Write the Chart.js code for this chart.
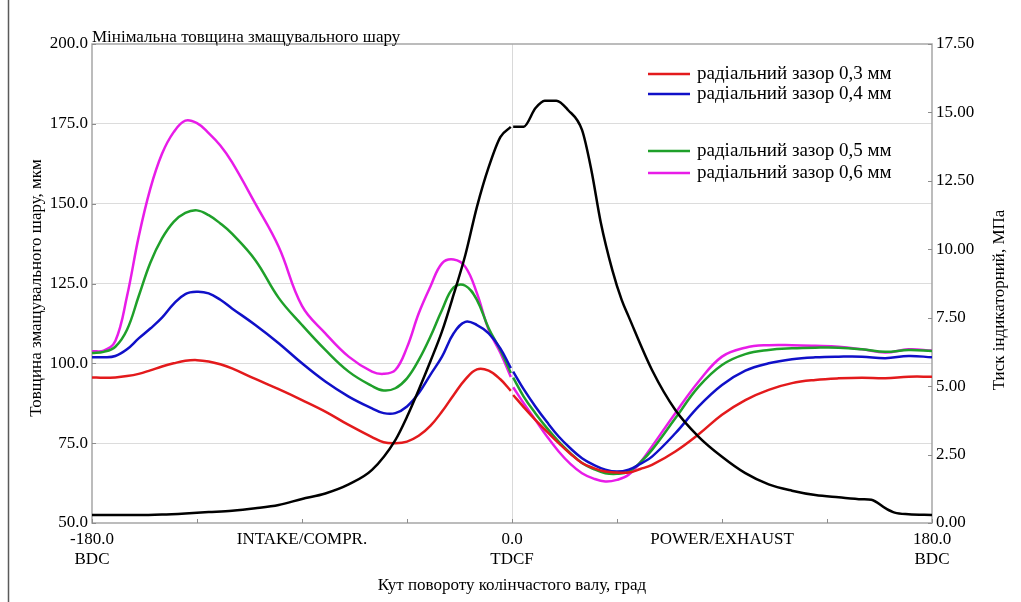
<!DOCTYPE html>
<html lang="uk">
<head>
<meta charset="UTF-8">
<title>Мінімальна товщина змащувального шару</title>
<style>
  html, body { margin: 0; padding: 0; background: #fff; }
</style>
</head>
<body>
<canvas id="myChart" width="1021" height="602"></canvas>

<script src="https://cdn.jsdelivr.net/npm/chart.js@4"></script>
<script>
  // crank angle, deg (null point at 0 splits the curves at TDC)
  var angles = [-180, -175, -170, -165, -160, -155, -150, -145, -140, -135, -130, -125, -120,
    -110, -100, -90, -80, -70, -60,
    -55, -50, -45, -40, -35, -30, -25, -20, -15, -10, -5,
    -0.5, 0, 0.5,
    5, 10, 15, 20, 25, 30, 35, 40, 45, 50, 55, 60,
    70, 80, 90, 100, 110, 120, 130, 140, 150, 160, 170, 180];

  // minimum oil film thickness, mkm
  var gap03 = [95.6, 95.5, 95.6, 96.0, 96.7, 97.8, 99.0, 100.0, 100.8, 101.0, 100.6, 99.7, 98.4,
    95.1, 91.9, 88.5, 84.9, 80.7, 76.9,
    75.3, 75.0, 75.5, 77.3, 80.4, 84.9, 90.1, 95.0, 98.1, 97.7, 95.0,
    91.4, null, 90.1,
    86.3, 82.3, 78.6, 75.0, 71.7, 68.8, 67.2, 66.1, 65.8, 65.8, 66.9, 68.2,
    72.4, 77.8, 83.9, 88.5, 91.7, 93.8, 94.8, 95.3, 95.5, 95.3, 95.8, 95.8];

  var gap04 = [101.9, 101.9, 102.3, 104.4, 107.8, 110.9, 114.3, 118.6, 121.7, 122.4, 121.9, 119.9, 117.2,
    112.0, 106.3, 100.0, 94.3, 89.6, 85.9,
    84.4, 84.4, 86.5, 90.6, 96.4, 102.1, 109.4, 113.0, 112.0, 109.4, 104.7,
    98.5, null, 97.4,
    91.9, 86.5, 81.6, 77.1, 73.4, 70.3, 68.2, 66.7, 66.1, 66.7, 68.5, 70.8,
    78.1, 86.5, 93.2, 97.7, 100.0, 101.3, 101.9, 102.1, 102.1, 101.6, 102.3, 101.9];

  var gap05 = [103.2, 103.6, 105.2, 110.5, 121.0, 131.5, 139.1, 144.3, 147.1, 147.9, 146.4, 143.8, 140.6,
    132.3, 120.5, 112.0, 104.2, 97.4, 92.9,
    91.5, 92.2, 95.3, 101.0, 108.3, 116.7, 123.8, 124.3, 119.8, 111.0, 104.2,
    97.0, null, 95.5,
    89.6, 84.4, 79.7, 75.5, 71.9, 68.8, 66.9, 65.6, 65.4, 66.1, 69.0, 72.9,
    82.8, 92.7, 99.5, 102.9, 104.2, 104.7, 104.9, 104.9, 104.4, 103.6, 104.2, 103.9];

  var gap06 = [103.8, 104.0, 107.0, 121.0, 139.6, 154.7, 165.6, 172.4, 176.0, 175.2, 172.1, 168.2, 163.0,
    150.0, 136.5, 118.0, 109.4, 102.1, 97.4,
    96.7, 97.9, 105.0, 115.6, 124.0, 131.3, 132.5, 130.2, 121.9, 110.5, 103.3,
    95.7, null, 92.5,
    87.5, 82.3, 77.1, 72.4, 68.5, 65.6, 63.9, 63.0, 63.5, 65.1, 69.0, 74.0,
    84.4, 94.3, 102.1, 104.9, 105.7, 105.7, 105.5, 105.2, 104.4, 103.4, 104.4, 104.0];

  // indicated cylinder pressure, MPa
  var pAngles = [-180, -170, -160, -150, -140, -130, -120, -110, -100, -90, -80, -70, -60, -50,
    -45, -40, -35, -30, -25, -20, -15, -10, -5,
    -0.5, 0, 0.5,
    5, 10, 14, 19, 24, 30, 34, 38, 43, 47,
    50, 60, 70, 80, 90, 100, 110, 120, 130, 140, 150,
    154, 160, 164, 170, 180];
  var pressure = [0.29, 0.29, 0.29, 0.31, 0.35, 0.40, 0.45, 0.54, 0.66, 0.88, 1.08, 1.41, 1.94, 3.03,
    3.88, 4.86, 5.90, 7.00, 8.35, 9.79, 11.56, 13.0, 14.1,
    14.47, null, 14.48,
    14.48, 15.15, 15.43, 15.43, 15.09, 14.36, 12.9, 11.0, 9.24, 8.15,
    7.54, 5.59, 4.13, 3.15, 2.42, 1.82, 1.41, 1.18, 1.02, 0.94, 0.87,
    0.85, 0.54, 0.38, 0.32, 0.29];

  var seriesNames = ['радіальний зазор 0,3 мм', 'радіальний зазор 0,4 мм',
                     'радіальний зазор 0,5 мм', 'радіальний зазор 0,6 мм'];
  var seriesColors = ['#e31a1c', '#1010c8', '#1fa02a', '#e81ce8'];

  var xLabelAngles = [-180, -90, 0, 90, 180];
  var xLabelText = [['-180.0', 'BDC'], 'INTAKE/COMPR.', ['0.0', 'TDCF'], 'POWER/EXHAUST', ['180.0', 'BDC']];

  var serif = '"Liberation Serif", "Times New Roman", serif';

  function pts(xs, ys) {
    return xs.map(function (x, i) { return { x: x, y: ys[i] }; });
  }

  var thickness = [gap03, gap04, gap05, gap06];
  var datasets = [{
    label: 'p',
    data: pts(pAngles, pressure),
    yAxisID: 'y1',
    borderColor: '#000',
    borderWidth: 2.5,
    cubicInterpolationMode: 'monotone',
    order: 0
  }];
  thickness.forEach(function (vals, i) {
    datasets.push({
      label: seriesNames[i],
      data: pts(angles, vals),
      yAxisID: 'y',
      borderColor: seriesColors[i],
      borderWidth: 2.5,
      tension: 0.4,
      order: 1 + i
    });
  });

  function line(ctx, x1, y1, x2, y2) {
    ctx.beginPath();
    ctx.moveTo(x1, y1);
    ctx.lineTo(x2, y2);
    ctx.stroke();
  }

  // frame, inward tick marks, titles and legend
  var decor = {
    id: 'decor',
    beforeDatasetsDraw: function (chart) {
      var a = chart.chartArea, ctx = chart.ctx;
      ctx.save();
      ctx.strokeStyle = '#a6a6a6';
      ctx.lineWidth = 1.5;
      ctx.strokeRect(a.left, a.top, a.right - a.left, a.bottom - a.top);

      ctx.strokeStyle = '#8c8c8c';
      ctx.lineWidth = 1;
      var sx = chart.scales.x, sy = chart.scales.y, sy1 = chart.scales.y1;
      sx.ticks.forEach(function (t) {
        var px = Math.round(sx.getPixelForValue(t.value)) + 0.5;
        line(ctx, px, a.bottom, px, a.bottom - 4);
      });
      sy.ticks.forEach(function (t) {
        var py = Math.round(sy.getPixelForValue(t.value)) + 0.5;
        line(ctx, a.left, py, a.left + 4, py);
      });
      sy1.ticks.forEach(function (t) {
        var py = Math.round(sy1.getPixelForValue(t.value)) + 0.5;
        line(ctx, a.right - 4, py, a.right, py);
      });
      ctx.restore();
    },
    afterDraw: function (chart) {
      var a = chart.chartArea, ctx = chart.ctx;
      ctx.save();
      ctx.fillStyle = '#000';
      ctx.font = '17px ' + serif;

      ctx.textAlign = 'left';
      ctx.textBaseline = 'alphabetic';
      ctx.fillText('Мінімальна товщина змащувального шару', a.left, a.top - 2);

      ctx.textAlign = 'center';
      ctx.textBaseline = 'middle';
      ctx.fillText('Кут повороту колінчастого валу, град', (a.left + a.right) / 2, 586);

      ctx.save();
      ctx.translate(37, 288);
      ctx.rotate(-Math.PI / 2);
      ctx.fillText('Товщина змащувального шару, мкм', 0, 0);
      ctx.restore();

      ctx.save();
      ctx.translate(1000, 300);
      ctx.rotate(-Math.PI / 2);
      ctx.fillText('Тиск індикаторний, МПа', 0, 0);
      ctx.restore();

      // legend (no entry for the pressure curve, blank row left between pairs)
      var rows = [74, 94, 151, 173];
      ctx.font = '19px ' + serif;
      ctx.textAlign = 'left';
      seriesNames.forEach(function (name, i) {
        ctx.strokeStyle = seriesColors[i];
        ctx.lineWidth = 2.5;
        line(ctx, 648, rows[i], 690, rows[i]);
        ctx.fillText(name, 697, rows[i]);
      });

      // window edge on the left
      ctx.strokeStyle = '#5a5a5a';
      ctx.lineWidth = 1.5;
      line(ctx, 8.5, 0, 8.5, 602);
      ctx.restore();
    }
  };

  var tickFont = { family: serif, size: 17 };

  new Chart(document.getElementById('myChart').getContext('2d'), {
    type: 'line',
    data: { datasets: datasets },
    options: {
      responsive: false,
      animation: false,
      layout: { padding: { top: 44, left: 0, right: 0, bottom: 0 } },
      elements: {
        point: { radius: 0 },
        line: { fill: false }
      },
      plugins: {
        legend: { display: false },
        tooltip: { enabled: false },
        title: { display: false }
      },
      scales: {
        x: {
          type: 'linear',
          min: -180,
          max: 180,
          afterFit: function (s) { s.height = 79; },
          border: { display: false },
          grid: {
            drawTicks: false,
            color: function (c) { return c.tick && c.tick.value === 0 ? '#d9d9d9' : 'rgba(0,0,0,0)'; }
          },
          ticks: {
            stepSize: 45,
            autoSkip: false,
            maxRotation: 0,
            padding: 6,
            color: '#000',
            font: tickFont,
            callback: function (v) {
              var k = xLabelAngles.indexOf(v);
              return k < 0 ? '' : xLabelText[k];
            }
          }
        },
        y: {
          position: 'left',
          min: 50,
          max: 200,
          afterFit: function (s) { s.width = 92; },
          border: { display: false },
          grid: {
            drawTicks: false,
            color: function (c) {
              var v = c.tick && c.tick.value;
              return (v === 50 || v === 200) ? 'rgba(0,0,0,0)' : '#dcdcdc';
            }
          },
          ticks: {
            stepSize: 25,
            padding: 4,
            color: '#000',
            font: tickFont,
            callback: function (v) { return v.toFixed(1); }
          }
        },
        y1: {
          position: 'right',
          min: 0,
          max: 17.5,
          afterFit: function (s) { s.width = 89; },
          border: { display: false },
          grid: { drawOnChartArea: false, drawTicks: false },
          ticks: {
            stepSize: 2.5,
            padding: 4,
            color: '#000',
            font: tickFont,
            callback: function (v) { return v.toFixed(2); }
          }
        }
      }
    },
    plugins: [decor]
  });
</script>
</body>
</html>
